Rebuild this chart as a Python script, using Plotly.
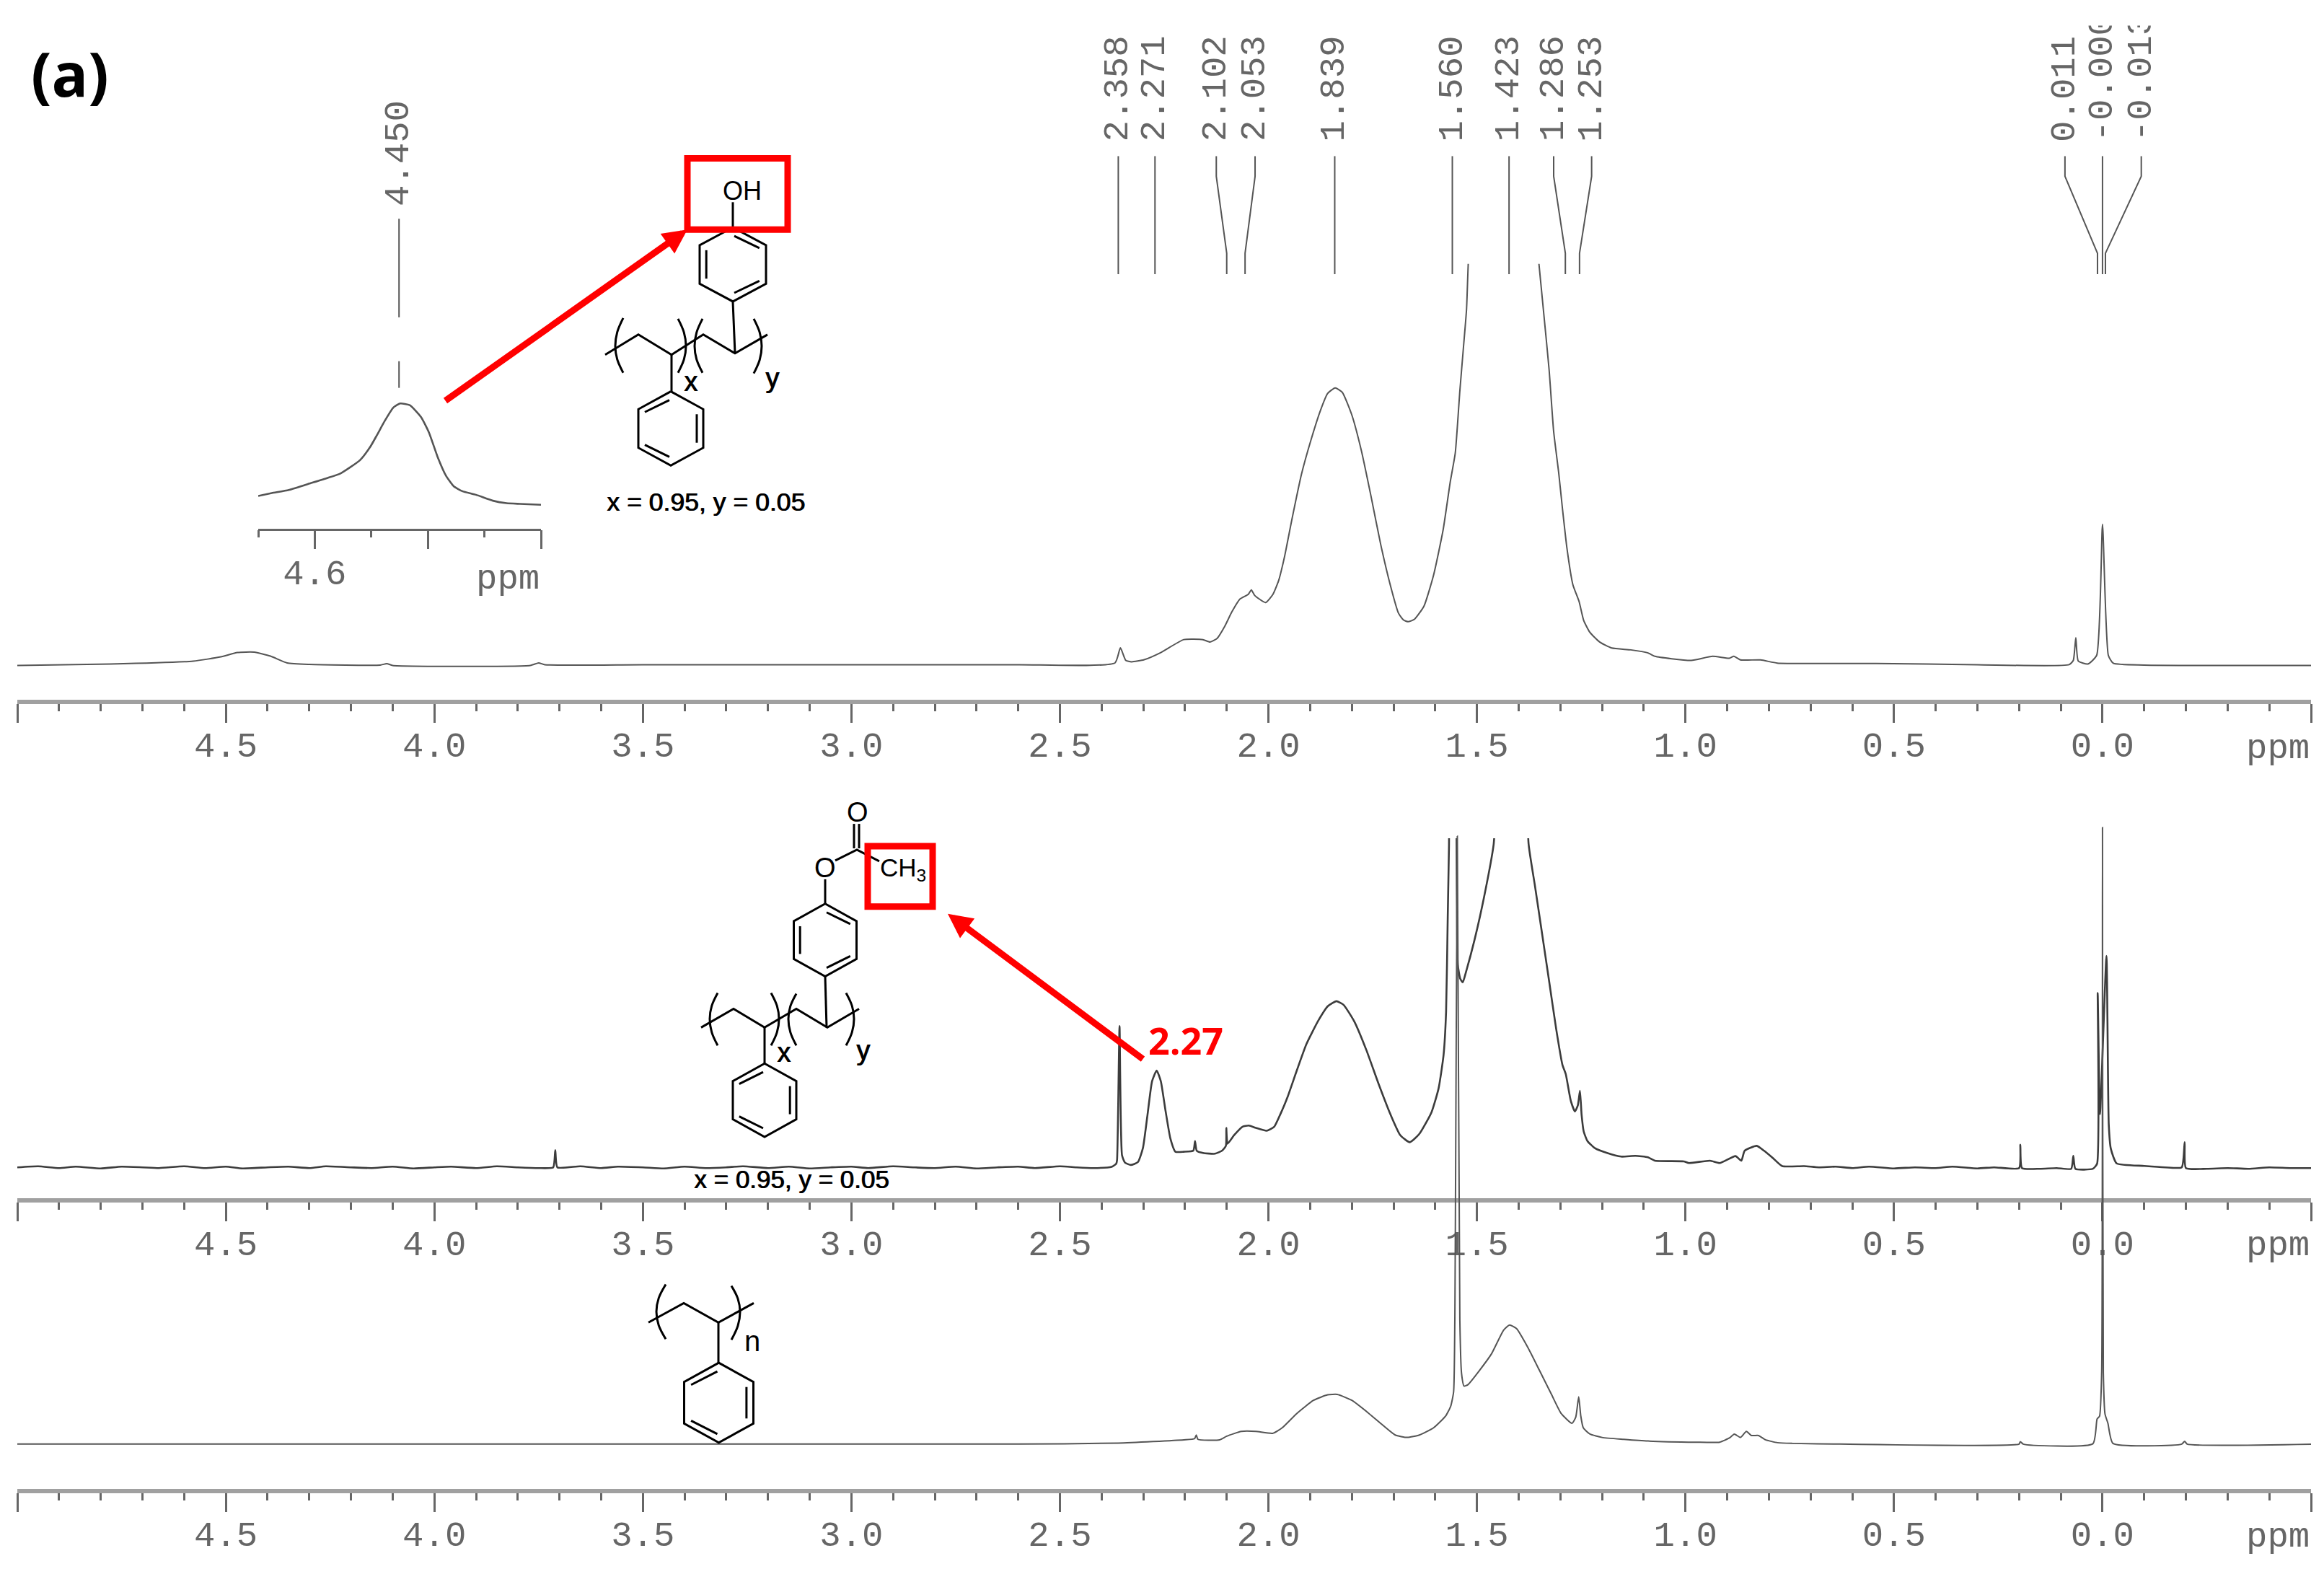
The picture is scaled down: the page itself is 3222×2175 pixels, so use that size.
"""1H NMR stack of three polymer spectra with peak picks, inset and structures."""

import plotly.graph_objects as go

# page is photographed at 3222x2175, body margin in the html takes 8 px on the edges
PAGE_W = 3206
PAGE_H = 2150
MONO = "Liberation Mono"
TICK_COLOR = "#666666"
TRACE_COLOR = "#555555"

# --- spectra, ppm against height above the baseline ---
TOP_PPM = [5.0, 4.777, 4.578, 4.512, 4.472, 4.432, 4.393, 4.353, 4.3, 4.13, 4.114, 4.1, 3.77, 3.75, 3.735,
           3.5, 3.0, 2.6, 2.368, 2.355, 2.342, 2.328, 2.298, 2.258, 2.203, 2.157, 2.14, 2.123, 2.105, 2.088,
           2.068, 2.048, 2.041, 2.033, 2.007, 1.989, 1.975, 1.961, 1.944, 1.921, 1.898, 1.875, 1.858, 1.84,
           1.823, 1.8, 1.777, 1.754, 1.731, 1.708, 1.688, 1.676, 1.665, 1.65, 1.627, 1.604, 1.581, 1.564,
           1.552, 1.541, 1.532, 1.525, 1.521, 1.5, 1.43, 1.37, 1.351, 1.339, 1.327, 1.316, 1.304, 1.295,
           1.284, 1.27, 1.255, 1.244, 1.229, 1.206, 1.177, 1.131, 1.091, 1.073, 1.033, 0.986, 0.935, 0.895,
           0.884, 0.868, 0.82, 0.78, 0.687, 0.543, 0.3, 0.08, 0.07, 0.064, 0.058, 0.035, 0.014, 0.0,
           -0.014, -0.026, -0.1, -0.5]
TOP_INT = [0, 2, 6, 12, 18, 18.5, 13, 3.5, 1.5, 0.5, 2.5, 0, 0, 3.5, 1,
           1, 1, 1, 3.5, 24.5, 7, 5, 8, 18, 36, 36, 32.7, 37.7, 54.3, 74.3,
           92.7, 99.3, 105.3, 97.7, 87.7, 99.3, 119.3, 152.7, 202.7, 266, 314.3, 356, 379.3, 387,
           381, 349.3, 299.3, 236, 169.3, 112.7, 72.7, 63.3, 61, 64.3, 82.7, 126, 189.3, 256,
           296, 382.7, 446, 496, 558, 800, 1000, 674, 558, 486, 412.7, 326, 269, 219,
           162.7, 112.7, 89, 62.7, 46, 32.7, 24.3, 21.7, 17.7, 12.7, 9.3, 7, 12.7, 10,
           12.7, 7.7, 7.7, 3.3, 2.7, 2.7, 1, 1, 7, 38.6, 6, 2, 14, 197,
           14, 3, 0.5, 0]

MID_PPM = [5.0, 4.95, 4.9, 4.86, 4.8, 4.75, 4.7, 4.66, 4.6, 4.55, 4.5, 4.46, 4.4, 4.35, 4.3, 4.26, 4.2, 4.15,
           4.1, 4.05, 4.0, 3.96, 3.9, 3.85, 3.8, 3.75, 3.715, 3.71, 3.705, 3.65, 3.6, 3.56, 3.5, 3.45, 3.4,
           3.35, 3.3, 3.26, 3.2, 3.15, 3.1, 3.05, 3.0, 2.96, 2.9, 2.85, 2.8, 2.75, 2.7, 2.65, 2.6, 2.56,
           2.5, 2.46, 2.42, 2.376, 2.365, 2.363, 2.357, 2.351, 2.344, 2.33, 2.313, 2.301, 2.29, 2.279, 2.268,
           2.258, 2.247, 2.235, 2.223, 2.203, 2.18, 2.176, 2.172, 2.157, 2.128, 2.111, 2.102, 2.101, 2.098,
           2.082, 2.062, 2.047, 2.03, 2.004, 1.986, 1.972, 1.955, 1.932, 1.909, 1.88, 1.857, 1.837, 1.82,
           1.794, 1.765, 1.736, 1.707, 1.684, 1.661, 1.638, 1.609, 1.592, 1.58, 1.574, 1.57, 1.567, 1.562,
           1.556, 1.549, 1.546, 1.54, 1.534, 1.526, 1.506, 1.483, 1.46, 1.43, 1.4, 1.376, 1.361, 1.344,
           1.327, 1.31, 1.295, 1.287, 1.275, 1.265, 1.258, 1.253, 1.249, 1.244, 1.235, 1.217, 1.188, 1.154,
           1.12, 1.09, 1.073, 1.004, 0.992, 0.941, 0.918, 0.88, 0.866, 0.858, 0.829, 0.812, 0.791, 0.768,
           0.716, 0.68, 0.64, 0.6, 0.56, 0.5, 0.45, 0.4, 0.36, 0.3, 0.26, 0.2, 0.197, 0.193, 0.15, 0.11,
           0.075, 0.07, 0.065, 0.023, 0.013, 0.0115, 0.006, -0.0095, -0.015, -0.02, -0.034, -0.1, -0.15,
           -0.19, -0.197, -0.2, -0.25, -0.3, -0.35, -0.4, -0.45, -0.5]
MID_INT = [0, 1.5, -1, 1, -1.5, 1, 0, -1, 1.5, -1, 1, -1.5, 0, 1, -1, 1.5, 0, -1, 1, -1.5, 0, 1, -1, 1.5, 0, -1,
           0, 24, 0, 1.5, -1, 1, 0, -1.5, 1, -1, 0, 1.5, -1, 1, -1.5, 0, 1, -1, 1.5, 0, -1, 1, -1.5, 0, 1, -1,
           1.5, 0, -1, 0.7, 5, 10, 197, 16.7, 6.7, 3.3, 7.3, 26.7, 73, 120, 135,
           120, 80, 40, 21.7, 21.7, 23.3, 36.7, 23.3, 20, 19, 23.3, 30, 55, 33,
           45, 56.7, 58.3, 55, 51, 56.7, 73.3, 96.7, 135, 171.7, 205, 225, 231.7, 226.7,
           203.3, 163.3, 116.7, 73.3, 45, 35, 46.7, 76.7, 110, 156.7, 216.7, 350, 450, 700,
           700, 460, 283, 263, 258, 273, 316.7, 376.7, 450, 700, 700, 450, 393, 326.7,
           260, 193, 143, 130, 93, 78, 86.7, 106.7, 73, 50, 36.7, 26.7, 20, 15,
           16, 14, 9.3, 8.3, 6, 9.3, 6, 15.7, 9.3, 23.3, 30, 23.3, 13.3, 1.7,
           1.7, 0, 1, -1, 1, -1.5, 0, -1, 1, -1.5, 0, -1, 31.5, -1, -2, -1,
           -2, 16, -2, -2, 5, 243, 74, 295, 60, 26, 5.5, 2, 0,
           0, 35, -1, -2, -1, -2, 0, -1, -1]

BOT_PPM = [5.0, 2.6, 2.36, 2.203, 2.177, 2.173, 2.169, 2.117, 2.1, 2.065, 2.03, 1.99, 1.967, 1.932, 1.892, 1.858,
           1.835, 1.8, 1.759, 1.725, 1.696, 1.667, 1.638, 1.604, 1.575, 1.563, 1.556, 1.553, 1.547, 1.541,
           1.537, 1.531, 1.522, 1.494, 1.465, 1.436, 1.422, 1.405, 1.376, 1.35, 1.321, 1.298, 1.272, 1.263,
           1.256, 1.251, 1.245, 1.229, 1.2, 1.148, 1.09, 0.975, 0.918, 0.894, 0.883, 0.868, 0.854, 0.842,
           0.825, 0.808, 0.779, 0.744, 0.63, 0.2, 0.197, 0.19, 0.023, 0.013, 0.007, 0.002, 0.0, -0.002, -0.006,
           -0.013, -0.025, -0.19, -0.197, -0.203, -0.5]
BOT_INT = [0, 0, 1.4, 6, 7.7, 12.7, 6.7, 6, 11, 17.7, 17.7, 15, 22.7, 42.7, 61, 68.7,
           69.3, 61, 42.7, 26, 12.7, 9.3, 12.7, 22.7, 39.3, 52.7, 72.7, 173, 848, 173,
           99, 81, 82.7, 102.7, 126, 159, 166, 161, 132.7, 102.7, 69, 42.7, 29, 37.7,
           66, 39.3, 22.7, 14, 9.3, 6.7, 4.3, 2.7, 2.7, 8.7, 14, 9.3, 17.7, 12,
           12, 6, 2, 1, 0, 0, 3.5, 0, 0.5, 35, 39, 100, 860, 100, 42,
           29, 1, 0, 4, 0, 0]

INSET_PPM = [4.7, 4.676, 4.646, 4.612, 4.578, 4.554, 4.52, 4.502, 4.49, 4.476, 4.461, 4.449, 4.432, 4.412,
             4.398, 4.383, 4.368, 4.354, 4.339, 4.315, 4.285, 4.261, 4.237, 4.2]
INSET_INT = [45.3, 49.3, 53.7, 62, 70.3, 77, 95.3, 113.7, 130.3, 150.3, 168.7, 174.3, 172, 155.3,
             133.7, 100.3, 73.7, 58.7, 52, 47, 38.7, 35.3, 34.3, 33]

# --- ticks ---
MAJOR_TICKS = [5.0, 4.5, 4.0, 3.5, 3.0, 2.5, 2.0, 1.5, 1.0, 0.5, 0.0, -0.5]
MAJOR_LABELS = ["", "4.5", "4.0", "3.5", "3.0", "2.5", "2.0", "1.5", "1.0", "0.5", "0.0", ""]
MINOR_TICKS = [4.9, 4.8, 4.7, 4.6, 4.4, 4.3, 4.2, 4.1, 3.9, 3.8, 3.7, 3.6, 3.4, 3.3, 3.2, 3.1, 2.9, 2.8, 2.7, 2.6,
               2.4, 2.3, 2.2, 2.1, 1.9, 1.8, 1.7, 1.6, 1.4, 1.3, 1.2, 1.1, 0.9, 0.8, 0.7, 0.6, 0.4, 0.3, 0.2, 0.1,
               -0.1, -0.2, -0.3, -0.4]
INSET_MAJOR = [4.6, 4.4, 4.2]
INSET_LABELS = ["4.6", "", ""]
INSET_MINOR = [4.7, 4.5, 4.3]

# --- peak picks on the top spectrum ---
PEAK_LABELS = ["2.358", "2.271", "2.102", "2.053", "1.839", "1.560", "1.423", "1.286", "1.253",
               "0.011", "-0.000", "-0.013"]
PEAK_TOP = [2.36, 2.272, 2.125, 2.032, 1.841, 1.559, 1.423, 1.316, 1.225, 0.09, 0.0, -0.093]
PEAK_BOTTOM = [2.36, 2.272, 2.1, 2.056, 1.841, 1.559, 1.423, 1.288, 1.254, 0.012, 0.0, -0.007]


def dx(px):
    return (px - 8) / PAGE_W


def dy(py):
    return 1 - (py - 8) / PAGE_H


def ring(cx, top, hw, bottom, upper):
    """Benzene ring from its top vertex; upper picks where the inner bonds go."""
    h = bottom - top
    s1, s2 = top + h * 0.24, top + h * 0.76
    xs = [cx, cx + hw, cx + hw, cx, cx - hw, cx - hw, cx, None]
    ys = [top, s1, s2, bottom, s2, s1, top, None]
    i = hw * 0.2
    if upper:
        xs += [cx - hw + i, cx - hw + i, None, cx + 2, cx + hw - i, None, cx + 2, cx + hw - i, None]
        ys += [s1 + 7, s2 - 7, None, top + 12, s1 + 4, None, bottom - 12, s2 - 4, None]
    else:
        xs += [cx + hw - i, cx + hw - i, None, cx - 2, cx - hw + i, None, cx - 2, cx - hw + i, None]
        ys += [s1 + 7, s2 - 7, None, top + 12, s1 + 4, None, bottom - 12, s2 - 4, None]
    return xs, ys


def bonds(*segments):
    xs, ys = [], []
    for seg in segments:
        xs += [p[0] for p in seg] + [None]
        ys += [p[1] for p in seg] + [None]
    return xs, ys


def paren(x, mid, top, bottom, bulge):
    return [(x, top), (x + bulge * 0.75, (top + mid) / 2), (x + bulge, mid), (x + bulge * 0.75, (mid + bottom) / 2), (x, bottom)]


fig = go.Figure()

# the three spectra and the inset
for i, (xs, ys, width, color) in enumerate([
    (TOP_PPM, TOP_INT, 2, TRACE_COLOR),
    (MID_PPM, MID_INT, 2.6, "#3c3c3c"),
    (BOT_PPM, BOT_INT, 2, TRACE_COLOR),
    (INSET_PPM, INSET_INT, 2.6, "#555555"),
]):
    suffix = "" if i == 0 else str(i + 1)
    fig.add_trace(go.Scatter(x=xs, y=ys, mode="lines",
                             line=dict(color=color, width=width, shape="spline", smoothing=0.5),
                             xaxis="x" + suffix, yaxis="y" + suffix))

# peak pick lines
pick_x, pick_y = [], []
for top, bottom in zip(PEAK_TOP, PEAK_BOTTOM):
    pick_x += [top, top, bottom, bottom, None]
    pick_y += [217, 245, 352, 381, None]
fig.add_trace(go.Scatter(x=pick_x, y=pick_y, mode="lines", line=dict(color="#555555", width=2),
                         xaxis="x", yaxis="y5"))
fig.add_trace(go.Scatter(x=[4.451, 4.451, None, 4.451, 4.451], y=[304, 441, None, 502, 539], mode="lines",
                         line=dict(color="#555555", width=2), xaxis="x4", yaxis="y5"))

# structures
struct_x, struct_y = [], []
for xs, ys in [
    ring(1016, 316, 46, 419, True),
    ring(930, 544, 45, 647, False),
    ring(1144, 1256, 43.5, 1357, True),
    ring(1060, 1478, 44, 1580, False),
    ring(996.5, 1894, 48, 2005, False),
    bonds([(1016, 281), (1016, 316)], [(1016, 419), (1019, 491)],
          [(839, 493), (885, 465), (931, 493), (975, 465), (1019, 491), (1064, 465)],
          [(931, 493), (931, 544)]),
    bonds([(1144, 1222), (1144, 1256)], [(1158, 1196), (1188, 1181), (1219, 1197)],
          [(1184, 1179), (1184, 1145)], [(1191, 1179), (1191, 1145)], [(1144, 1357), (1146, 1428)],
          [(972, 1428), (1017, 1402), (1060, 1428), (1104, 1402), (1147, 1428), (1191, 1402)],
          [(1060, 1428), (1060, 1478)]),
    bonds([(899, 1838), (948, 1811), (996, 1838), (1045, 1811)], [(996, 1838), (996, 1894)]),
]:
    struct_x += xs
    struct_y += ys
fig.add_trace(go.Scatter(x=struct_x, y=struct_y, mode="lines", line=dict(color="black", width=3),
                         xaxis="x5", yaxis="y5"))

for seg in [
    paren(864, 481, 442, 518, -11), paren(940, 481, 443, 518, 11), paren(974, 481, 443, 518, -11),
    paren(1045, 481, 443, 519, 11),
    paren(995, 1416, 1380, 1453, -11), paren(1069, 1416, 1380, 1453, 11), paren(1104, 1416, 1381, 1453, -11),
    paren(1173, 1416, 1380, 1453, 11),
    paren(923, 1823, 1785, 1861, -13), paren(1014, 1823, 1787, 1862, 12),
]:
    fig.add_trace(go.Scatter(x=[p[0] for p in seg], y=[p[1] for p in seg], mode="lines",
                             line=dict(color="black", width=3, shape="spline"), xaxis="x5", yaxis="y5"))

# red boxes
for x0, y0, x1, y1 in [(953, 220, 1092, 319), (1203, 1176, 1293, 1260)]:
    fig.add_shape(type="rect", xref="x5", yref="y5", x0=x0, y0=y0, x1=x1, y1=y1,
                  line=dict(color="#ff0000", width=9))

annotations = []


def page_text(x, y, text, size, font="Liberation Sans", color="black", xanchor="center", bold=False, heavy=False):
    style = dict(family=font, size=size, color=color)
    if heavy:
        style["shadow"] = "1px 0 0 black"
    annotations.append(dict(x=x, y=y, xref="x5", yref="y5", text=f"<b>{text}</b>" if bold else text,
                            showarrow=False, xanchor=xanchor, yanchor="middle", font=style))


for label, top in zip(PEAK_LABELS, PEAK_TOP):
    annotations.append(dict(x=top, y=199, xref="x", yref="y5", text=label, showarrow=False, textangle=-90,
                            xanchor="center", yanchor="bottom", font=dict(family=MONO, size=49, color=TICK_COLOR)))
annotations.append(dict(x=4.451, y=289, xref="x4", yref="y5", text="4.450", showarrow=False, textangle=-90,
                        xanchor="center", yanchor="bottom", font=dict(family=MONO, size=49, color=TICK_COLOR)))
# the two long labels run off the top of the original picture
annotations.append(dict(x=2945, y=16, xref="x5", yref="y5", text=" ", showarrow=False, width=150, height=36,
                        bgcolor="white", font=dict(size=10)))

page_text(97, 102, "(a)", 84, font="Open Sans", bold=True)
page_text(1644, 1445, "2.27", 52, font="Open Sans", color="#ff0000", bold=True)
page_text(3204, 1041, "ppm", 49, font=MONO, color=TICK_COLOR, xanchor="right")
page_text(3204, 1731, "ppm", 49, font=MONO, color=TICK_COLOR, xanchor="right")
page_text(3204, 2136, "ppm", 49, font=MONO, color=TICK_COLOR, xanchor="right")
page_text(750, 805, "ppm", 49, font=MONO, color=TICK_COLOR, xanchor="right")
page_text(1029, 265, "OH", 36)
page_text(957, 530, "x", 38, heavy=True)
page_text(1070, 525, "y", 38, heavy=True)
page_text(978, 698, "x = 0.95, y = 0.05", 35.6, heavy=True)
page_text(1144, 1206, "O", 38)
page_text(1189, 1129, "O", 38)
page_text(1252, 1208, "CH<sub>3</sub>", 35)
page_text(1086, 1463, "x", 38, heavy=True)
page_text(1196, 1460, "y", 38, heavy=True)
page_text(1097, 1639, "x = 0.95, y = 0.05", 35, heavy=True)
page_text(1043, 1864, "n", 40)

for head, tail in [((953, 319), (616, 558)), ((1314, 1270), (1586, 1473))]:
    annotations.append(dict(x=head[0], y=head[1], ax=tail[0], ay=tail[1], xref="x5", yref="y5",
                            axref="x5", ayref="y5", text="", showarrow=True, arrowhead=2, arrowsize=0.75,
                            arrowwidth=9, arrowcolor="#ff0000", standoff=0))


def ppm_axis(anchor):
    return dict(
        domain=[dx(24), dx(3204)], range=[5.0, -0.5], anchor=anchor, tickmode="array",
        tickvals=MAJOR_TICKS, ticktext=MAJOR_LABELS, ticks="outside", ticklen=26, tickwidth=2.5, tickcolor=TICK_COLOR,
        tickfont=dict(family=MONO, size=49, color=TICK_COLOR), ticklabelstandoff=-12,
        minor=dict(tickmode="array", tickvals=MINOR_TICKS, ticks="outside", ticklen=10, tickwidth=2.5,
                   tickcolor=TICK_COLOR, showgrid=False),
        showline=True, linecolor="#a0a0a0", linewidth=6, showgrid=False, zeroline=False,
    )


hidden = dict(visible=False, showgrid=False, zeroline=False)

fig.update_layout(
    width=PAGE_W, height=PAGE_H,
    margin=dict(l=0, r=0, t=0, b=0),
    paper_bgcolor="white", plot_bgcolor="rgba(0,0,0,0)",
    showlegend=False, hovermode=False,
    xaxis=ppm_axis("y"),
    yaxis=dict(domain=[dy(976), dy(368)], range=[-48, 560], anchor="x", **hidden),
    xaxis2=ppm_axis("y2"),
    yaxis2=dict(domain=[dy(1671), dy(1169)], range=[-43, 459], anchor="x2", **hidden),
    xaxis3=ppm_axis("y3"),
    yaxis3=dict(domain=[dy(2077), dy(1150)], range=[-63, 864], anchor="x3", **hidden),
    xaxis4=dict(domain=[dx(358), dx(750)], range=[4.7, 4.2], anchor="y4", tickmode="array",
                tickvals=INSET_MAJOR, ticktext=INSET_LABELS, ticks="outside", ticklen=26, tickwidth=2.5,
                tickcolor=TICK_COLOR, tickfont=dict(family=MONO, size=49, color=TICK_COLOR), ticklabelstandoff=-10,
                minor=dict(tickmode="array", tickvals=INSET_MINOR, ticks="outside", ticklen=10, tickwidth=2.5,
                           tickcolor=TICK_COLOR, showgrid=False),
                showline=True, linecolor=TICK_COLOR, linewidth=2.5, showgrid=False, zeroline=False),
    yaxis4=dict(domain=[dy(737), dy(555)], range=[0, 182], anchor="x4", **hidden),
    xaxis5=dict(domain=[0, 1], range=[8, 3214], anchor="y5", **hidden),
    yaxis5=dict(domain=[0, 1], range=[PAGE_H + 0.5, 8], anchor="x5", **hidden),
    annotations=annotations,
)

fig.write_html("out.html")
